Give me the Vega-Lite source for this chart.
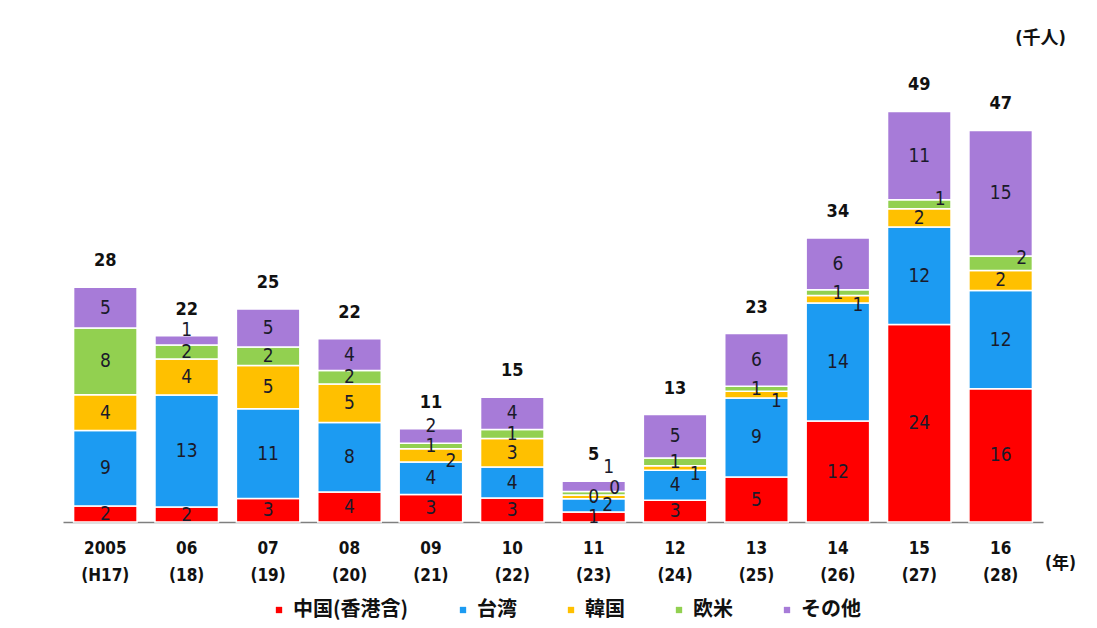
{
  "$schema": "https://vega.github.io/schema/vega-lite/v6.json",
  "width": 980,
  "height": 460,
  "autosize": {"type": "none"},
  "padding": {"left": 63, "top": 62, "right": 54, "bottom": 106},
  "background": "white",
  "title": {"text": "(千人)", "anchor": "end", "frame": "group", "dx": 23, "offset": 14, "fontSize": 18, "fontWeight": "bold", "font": "DejaVu Sans Condensed, Noto Sans CJK JP", "color": "#111"},
  "config": {"view": {"stroke": null}},
  "data": {"values": [
    {"year": "2005\n(H17)", "cat": "中国(香港含)", "v": 1.91},
    {"year": "2005\n(H17)", "cat": "台湾", "v": 9.04},
    {"year": "2005\n(H17)", "cat": "韓国", "v": 4.26},
    {"year": "2005\n(H17)", "cat": "欧米", "v": 8.0},
    {"year": "2005\n(H17)", "cat": "その他", "v": 4.85},
    {"year": "06\n(18)", "cat": "中国(香港含)", "v": 1.79},
    {"year": "06\n(18)", "cat": "台湾", "v": 13.4},
    {"year": "06\n(18)", "cat": "韓国", "v": 4.3},
    {"year": "06\n(18)", "cat": "欧米", "v": 1.67},
    {"year": "06\n(18)", "cat": "その他", "v": 1.1},
    {"year": "07\n(19)", "cat": "中国(香港含)", "v": 2.8},
    {"year": "07\n(19)", "cat": "台湾", "v": 10.75},
    {"year": "07\n(19)", "cat": "韓国", "v": 5.17},
    {"year": "07\n(19)", "cat": "欧米", "v": 2.19},
    {"year": "07\n(19)", "cat": "その他", "v": 4.55},
    {"year": "08\n(20)", "cat": "中国(香港含)", "v": 3.6},
    {"year": "08\n(20)", "cat": "台湾", "v": 8.3},
    {"year": "08\n(20)", "cat": "韓国", "v": 4.6},
    {"year": "08\n(20)", "cat": "欧米", "v": 1.6},
    {"year": "08\n(20)", "cat": "その他", "v": 3.8},
    {"year": "09\n(21)", "cat": "中国(香港含)", "v": 3.3},
    {"year": "09\n(21)", "cat": "台湾", "v": 3.86},
    {"year": "09\n(21)", "cat": "韓国", "v": 1.6},
    {"year": "09\n(21)", "cat": "欧米", "v": 0.67},
    {"year": "09\n(21)", "cat": "その他", "v": 1.72},
    {"year": "10\n(22)", "cat": "中国(香港含)", "v": 2.87},
    {"year": "10\n(22)", "cat": "台湾", "v": 3.7},
    {"year": "10\n(22)", "cat": "韓国", "v": 3.4},
    {"year": "10\n(22)", "cat": "欧米", "v": 1.1},
    {"year": "10\n(22)", "cat": "その他", "v": 3.86},
    {"year": "11\n(23)", "cat": "中国(香港含)", "v": 1.19},
    {"year": "11\n(23)", "cat": "台湾", "v": 1.6},
    {"year": "11\n(23)", "cat": "韓国", "v": 0.45},
    {"year": "11\n(23)", "cat": "欧米", "v": 0.4},
    {"year": "11\n(23)", "cat": "その他", "v": 1.23},
    {"year": "12\n(24)", "cat": "中国(香港含)", "v": 2.6},
    {"year": "12\n(24)", "cat": "台湾", "v": 3.58},
    {"year": "12\n(24)", "cat": "韓国", "v": 0.55},
    {"year": "12\n(24)", "cat": "欧米", "v": 0.92},
    {"year": "12\n(24)", "cat": "その他", "v": 5.2},
    {"year": "13\n(25)", "cat": "中国(香港含)", "v": 5.38},
    {"year": "13\n(25)", "cat": "台湾", "v": 9.45},
    {"year": "13\n(25)", "cat": "韓国", "v": 0.8},
    {"year": "13\n(25)", "cat": "欧米", "v": 0.6},
    {"year": "13\n(25)", "cat": "その他", "v": 6.3},
    {"year": "14\n(26)", "cat": "中国(香港含)", "v": 12.07},
    {"year": "14\n(26)", "cat": "台湾", "v": 14.1},
    {"year": "14\n(26)", "cat": "韓国", "v": 0.92},
    {"year": "14\n(26)", "cat": "欧米", "v": 0.68},
    {"year": "14\n(26)", "cat": "その他", "v": 6.2},
    {"year": "15\n(27)", "cat": "中国(香港含)", "v": 23.6},
    {"year": "15\n(27)", "cat": "台湾", "v": 11.66},
    {"year": "15\n(27)", "cat": "韓国", "v": 2.2},
    {"year": "15\n(27)", "cat": "欧米", "v": 1.08},
    {"year": "15\n(27)", "cat": "その他", "v": 10.55},
    {"year": "16\n(28)", "cat": "中国(香港含)", "v": 15.94},
    {"year": "16\n(28)", "cat": "台湾", "v": 11.74},
    {"year": "16\n(28)", "cat": "韓国", "v": 2.4},
    {"year": "16\n(28)", "cat": "欧米", "v": 1.71},
    {"year": "16\n(28)", "cat": "その他", "v": 15.02}
  ]},
  "transform": [
    {"calculate": "indexof(['中国(香港含)','台湾','韓国','欧米','その他'], datum.cat)", "as": "k"},
    {"calculate": "split(datum.year, '\\n')[0]", "as": "yr"},
    {"stack": "v", "groupby": ["year"], "sort": [{"field": "k", "order": "ascending"}], "as": ["v0", "v1"]},
    {"calculate": "(datum.v0 + datum.v1) / 2", "as": "mid"},
    {"calculate": "datum.yr == '11' ? (datum.k == 1 ? 'b11' : datum.k == 3 ? 'gr' : datum.k == 4 ? 'p11' : 'c') : (datum.k == 2 && datum.v < 2) ? 'yr' : (datum.k == 3 && (datum.yr == '15' || datum.yr == '16')) ? 'gr' : (datum.k == 4 && datum.v < 2) ? 'pu' : 'c'", "as": "lp"}
  ],
  "encoding": {
    "x": {
      "field": "year", "type": "nominal", "sort": null,
      "scale": {"paddingInner": 0.22, "paddingOuter": 0.13},
      "axis": {
        "title": "(年)", "titleX": 997, "titleY": 41, "titleAngle": 0, "titleAlign": "center", "titleBaseline": "middle",
        "titleFont": "DejaVu Sans Condensed, Noto Sans CJK JP", "titleFontSize": 17, "titleFontWeight": "bold", "titleColor": "#111",
        "labelExpr": "split(datum.value, '\\n')",
        "labelAngle": 0, "labelPadding": 18, "labelLineHeight": 27,
        "labelFont": "DejaVu Sans Condensed", "labelFontSize": 17, "labelFontWeight": "bold", "labelColor": "#111",
        "ticks": false, "domainColor": "#7f7f7f", "domainWidth": 1.5
      }
    }
  },
  "layer": [
    {
      "mark": {"type": "bar", "stroke": "white", "strokeWidth": 1.5},
      "encoding": {
        "y": {"field": "v0", "type": "quantitative", "scale": {"domain": [0, 55], "nice": false}, "axis": null},
        "y2": {"field": "v1"},
        "color": {
          "field": "cat", "type": "nominal",
          "scale": {"domain": ["中国(香港含)", "台湾", "韓国", "欧米", "その他"], "range": ["#ff0000", "#1c9bf2", "#ffc000", "#92d050", "#a77bd8"]},
          "legend": {
            "title": null, "orient": "none", "legendX": 206, "legendY": 538, "direction": "horizontal", "columns": 5,
            "symbolType": "square", "symbolSize": 40, "symbolStrokeWidth": 0, "columnPadding": 44, "labelOffset": 4, "padding": 0,
            "labelFont": "Noto Sans CJK JP", "labelFontSize": 20, "labelFontWeight": "bold", "labelColor": "#111"
          }
        }
      }
    },
    {
      "transform": [{"filter": "datum.lp == 'c'"}],
      "mark": {"type": "text", "font": "DejaVu Sans Condensed", "fontSize": 19, "color": "#1a1a2a", "baseline": "middle"},
      "encoding": {
        "y": {"field": "mid", "type": "quantitative"},
        "text": {"field": "v", "type": "quantitative", "format": ".0f"}
      }
    },
    {
      "transform": [{"filter": "datum.lp == 'yr'"}],
      "mark": {"type": "text", "font": "DejaVu Sans Condensed", "fontSize": 19, "color": "#1a1a2a", "baseline": "middle", "dx": 20, "dy": 6},
      "encoding": {
        "y": {"field": "mid", "type": "quantitative"},
        "text": {"field": "v", "type": "quantitative", "format": ".0f"}
      }
    },
    {
      "transform": [{"filter": "datum.lp == 'gr'"}],
      "mark": {"type": "text", "font": "DejaVu Sans Condensed", "fontSize": 19, "color": "#1a1a2a", "baseline": "middle", "dx": 21, "dy": -5},
      "encoding": {
        "y": {"field": "mid", "type": "quantitative"},
        "text": {"field": "v", "type": "quantitative", "format": ".0f"}
      }
    },
    {
      "transform": [{"filter": "datum.lp == 'b11'"}],
      "mark": {"type": "text", "font": "DejaVu Sans Condensed", "fontSize": 19, "color": "#1a1a2a", "baseline": "middle", "dx": 14, "dy": 0},
      "encoding": {
        "y": {"field": "mid", "type": "quantitative"},
        "text": {"field": "v", "type": "quantitative", "format": ".0f"}
      }
    },
    {
      "transform": [{"filter": "datum.lp == 'pu'"}],
      "mark": {"type": "text", "font": "DejaVu Sans Condensed", "fontSize": 19, "color": "#1a1a2a", "baseline": "middle", "dy": -10},
      "encoding": {
        "y": {"field": "mid", "type": "quantitative"},
        "text": {"field": "v", "type": "quantitative", "format": ".0f"}
      }
    },
    {
      "transform": [{"filter": "datum.lp == 'p11'"}],
      "mark": {"type": "text", "font": "DejaVu Sans Condensed", "fontSize": 19, "color": "#1a1a2a", "baseline": "middle", "dx": 15, "dy": -19},
      "encoding": {
        "y": {"field": "mid", "type": "quantitative"},
        "text": {"field": "v", "type": "quantitative", "format": ".0f"}
      }
    },
    {
      "mark": {"type": "text", "font": "DejaVu Sans Condensed", "fontSize": 18, "fontWeight": "bold", "color": "#111", "baseline": "bottom", "dy": -17},
      "encoding": {
        "y": {"aggregate": "sum", "field": "v", "type": "quantitative"},
        "text": {"aggregate": "sum", "field": "v", "type": "quantitative", "format": ".0f"}
      }
    }
  ]
}
